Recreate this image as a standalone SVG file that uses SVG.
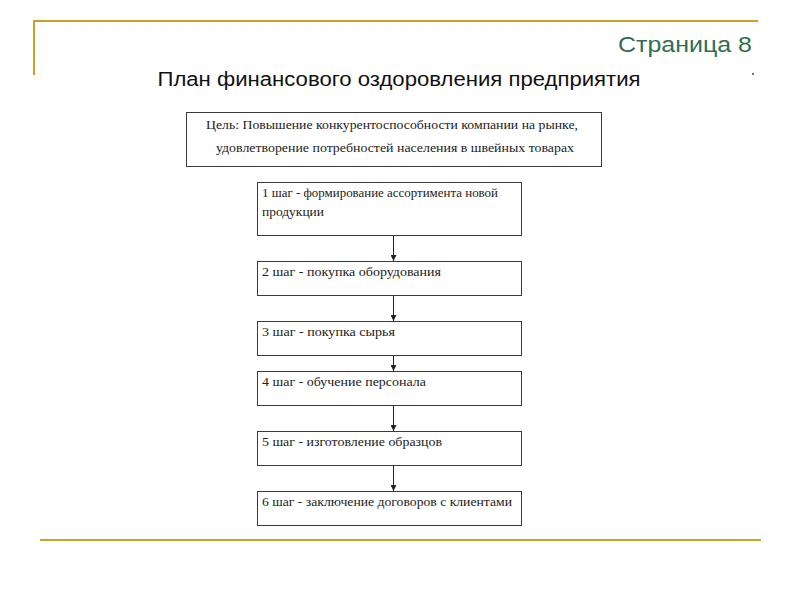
<svg xmlns="http://www.w3.org/2000/svg" width="800" height="600" viewBox="0 0 800 600">
<defs>
<style>
.gold{stroke:#c9a227;stroke-width:2;fill:none}
.box{fill:#fff;stroke:#3a3a3a;stroke-width:1}
.t{font-family:"Liberation Serif","DejaVu Serif",serif;font-size:12.5px;fill:#222}
.g{font-family:"Liberation Serif","DejaVu Serif",serif;font-size:13px;fill:#222}
.conn{stroke:#222;stroke-width:1;fill:none;marker-end:url(#ah)}
</style>
<marker id="ah" viewBox="0 0 8 8" refX="8" refY="4" markerWidth="6" markerHeight="6" orient="auto" markerUnits="userSpaceOnUse">
<path d="M0,0 L8,4 L0,8 z" fill="#222"/>
</marker>
</defs>
<rect width="800" height="600" fill="#fff"/>
<g id="frame">
<line class="gold" x1="33" y1="21" x2="758" y2="21"/>
<line class="gold" x1="34" y1="20" x2="34" y2="75"/>
<line class="gold" x1="40" y1="540" x2="761" y2="540"/>
<rect x="752" y="73" width="2" height="2" fill="#8a7a50"/>
</g>
<text x="752" y="52" text-anchor="end" font-family="Liberation Sans,Arial,sans-serif" font-size="22" fill="#2e6e55" textLength="134" lengthAdjust="spacingAndGlyphs">Страница 8</text>
<text x="399" y="86" text-anchor="middle" font-family="Liberation Sans,Arial,sans-serif" font-size="20" fill="#111" textLength="483" lengthAdjust="spacingAndGlyphs">План финансового оздоровления предприятия</text>
<g id="goal">
<rect class="box" x="186.5" y="112.5" width="415" height="54"/>
<text class="g" x="206" y="129" textLength="372" lengthAdjust="spacingAndGlyphs">Цель: Повышение конкурентоспособности компании на рынке,</text>
<text class="g" x="216" y="152" textLength="358" lengthAdjust="spacingAndGlyphs">удовлетворение потребностей населения в швейных товарах</text>
</g>
<g id="step1">
<rect class="box" x="257.5" y="182.5" width="264" height="53"/>
<text class="t" x="262" y="197" textLength="236" lengthAdjust="spacingAndGlyphs">1 шаг  - формирование ассортимента новой</text>
<text class="t" x="262" y="216" textLength="62" lengthAdjust="spacingAndGlyphs">продукции</text>
</g>
<g id="step2">
<rect class="box" x="257.5" y="261.5" width="264" height="34"/>
<text class="t" x="262" y="276" textLength="179" lengthAdjust="spacingAndGlyphs">2 шаг -  покупка оборудования</text>
</g>
<g id="step3">
<rect class="box" x="257.5" y="321.5" width="264" height="34"/>
<text class="t" x="262" y="336" textLength="133" lengthAdjust="spacingAndGlyphs">3 шаг -  покупка сырья</text>
</g>
<g id="step4">
<rect class="box" x="257.5" y="371.5" width="264" height="34"/>
<text class="t" x="262" y="386" textLength="164" lengthAdjust="spacingAndGlyphs">4 шаг -  обучение персонала</text>
</g>
<g id="step5">
<rect class="box" x="257.5" y="431.5" width="264" height="34"/>
<text class="t" x="262" y="446" textLength="180" lengthAdjust="spacingAndGlyphs">5 шаг -  изготовление образцов</text>
</g>
<g id="step6">
<rect class="box" x="257.5" y="491.5" width="264" height="34"/>
<text class="t" x="262" y="506" textLength="250" lengthAdjust="spacingAndGlyphs">6 шаг -  заключение договоров с клиентами</text>
</g>
<g id="connectors">
<line class="conn" x1="393.5" y1="236" x2="393.5" y2="261"/>
<line class="conn" x1="393.5" y1="296" x2="393.5" y2="321"/>
<line class="conn" x1="393.5" y1="356" x2="393.5" y2="371"/>
<line class="conn" x1="393.5" y1="406" x2="393.5" y2="431"/>
<line class="conn" x1="393.5" y1="466" x2="393.5" y2="491"/>
</g>
</svg>
